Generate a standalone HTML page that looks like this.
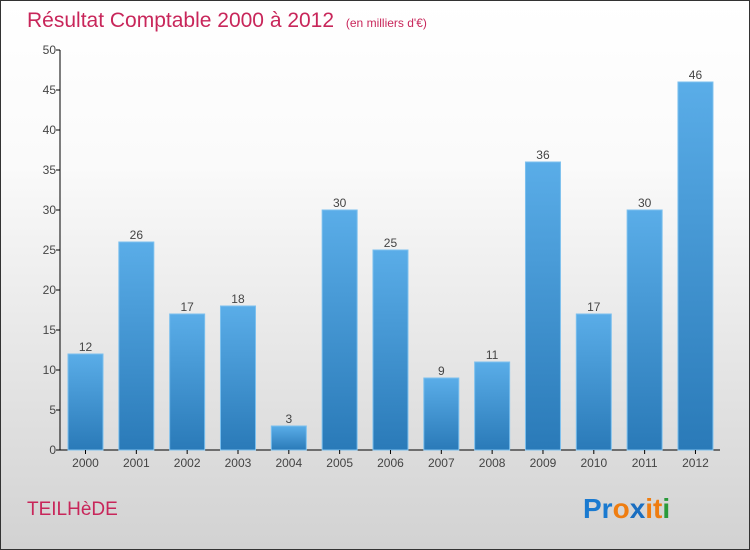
<!DOCTYPE html>
<html><head><meta charset="utf-8"><style>
body{margin:0}
#c{width:748px;height:548px;border:1px solid #333;background:linear-gradient(#fff,#fafafa 30%,#d2d2d2);position:relative;font-family:"Liberation Sans",sans-serif;overflow:hidden}
</style></head><body>
<div id="c">
<svg width="748" height="548">
<defs><linearGradient id="g" x1="0" y1="0" x2="0" y2="1"><stop offset="0" stop-color="#5aade8"/><stop offset="1" stop-color="#2a7ab8"/></linearGradient></defs>
<text x="26" y="26" font-size="21" fill="#c8265a">Résultat Comptable 2000 à 2012 <tspan font-size="12" dx="6">(en milliers d'€)</tspan></text>
<g id="plot"></g>
<text x="26" y="514" font-size="19" fill="#c8265a">TEILHèDE</text>
<text x="582" y="517" font-size="28" font-weight="bold"><tspan fill="#1a7ad0">Pr</tspan><tspan fill="#ef7d10">o</tspan><tspan fill="#1a6ec0">x</tspan><tspan fill="#ef7d10">i</tspan><tspan fill="#ef7d10">t</tspan><tspan fill="#2a9a3a">i</tspan></text>
</svg></div>
<script>
const years=["2000","2001","2002","2003","2004","2005","2006","2007","2008","2009","2010","2011","2012"];
const values=[12,26,17,18,3,30,25,9,11,36,17,30,46];
const ticks=[0,5,10,15,20,25,30,35,40,45,50];
const ns="http://www.w3.org/2000/svg";
const p=document.getElementById('plot');
const y=v=>449-v*8, x0=59, step=50.83, bw=35;
function mk(t,a,txt){const e=document.createElementNS(ns,t);for(const k in a)e.setAttribute(k,a[k]);if(txt!==undefined)e.textContent=txt;p.appendChild(e);return e;}
let e=mk('line',{x1:x0,y1:y(50),x2:x0,y2:y(0),stroke:'#000'});


e=mk('line',{x1:x0,y1:y(0),x2:719,y2:y(0),stroke:'#000'});


ticks.forEach(t=>{
 mk('line',{x1:x0-4,y1:y(t),x2:x0,y2:y(t),stroke:'#000'});
 e=mk('text',{x:x0-4,y:y(t)+4,'font-size':12,fill:'#444','text-anchor':'end'},t);
 
 
});
years.forEach((yr,i)=>{
 const l=67+i*step, v=values[i];
 e=mk('rect',{x:l,y:y(v),width:bw,height:v*8,fill:'url(#g)',stroke:'#7cc0ee','stroke-width':1});
 
 
 e=mk('text',{x:l+bw/2,y:y(v)-3,'font-size':12,fill:'#444','text-anchor':'middle'},v);
 
 
 mk('line',{x1:l+bw/2,y1:y(0),x2:l+bw/2,y2:y(0)+4,stroke:'#000'});
 e=mk('text',{x:l+bw/2,y:466,'font-size':12,fill:'#444','text-anchor':'middle'},yr);
 
 
});
</script>
</body></html>
